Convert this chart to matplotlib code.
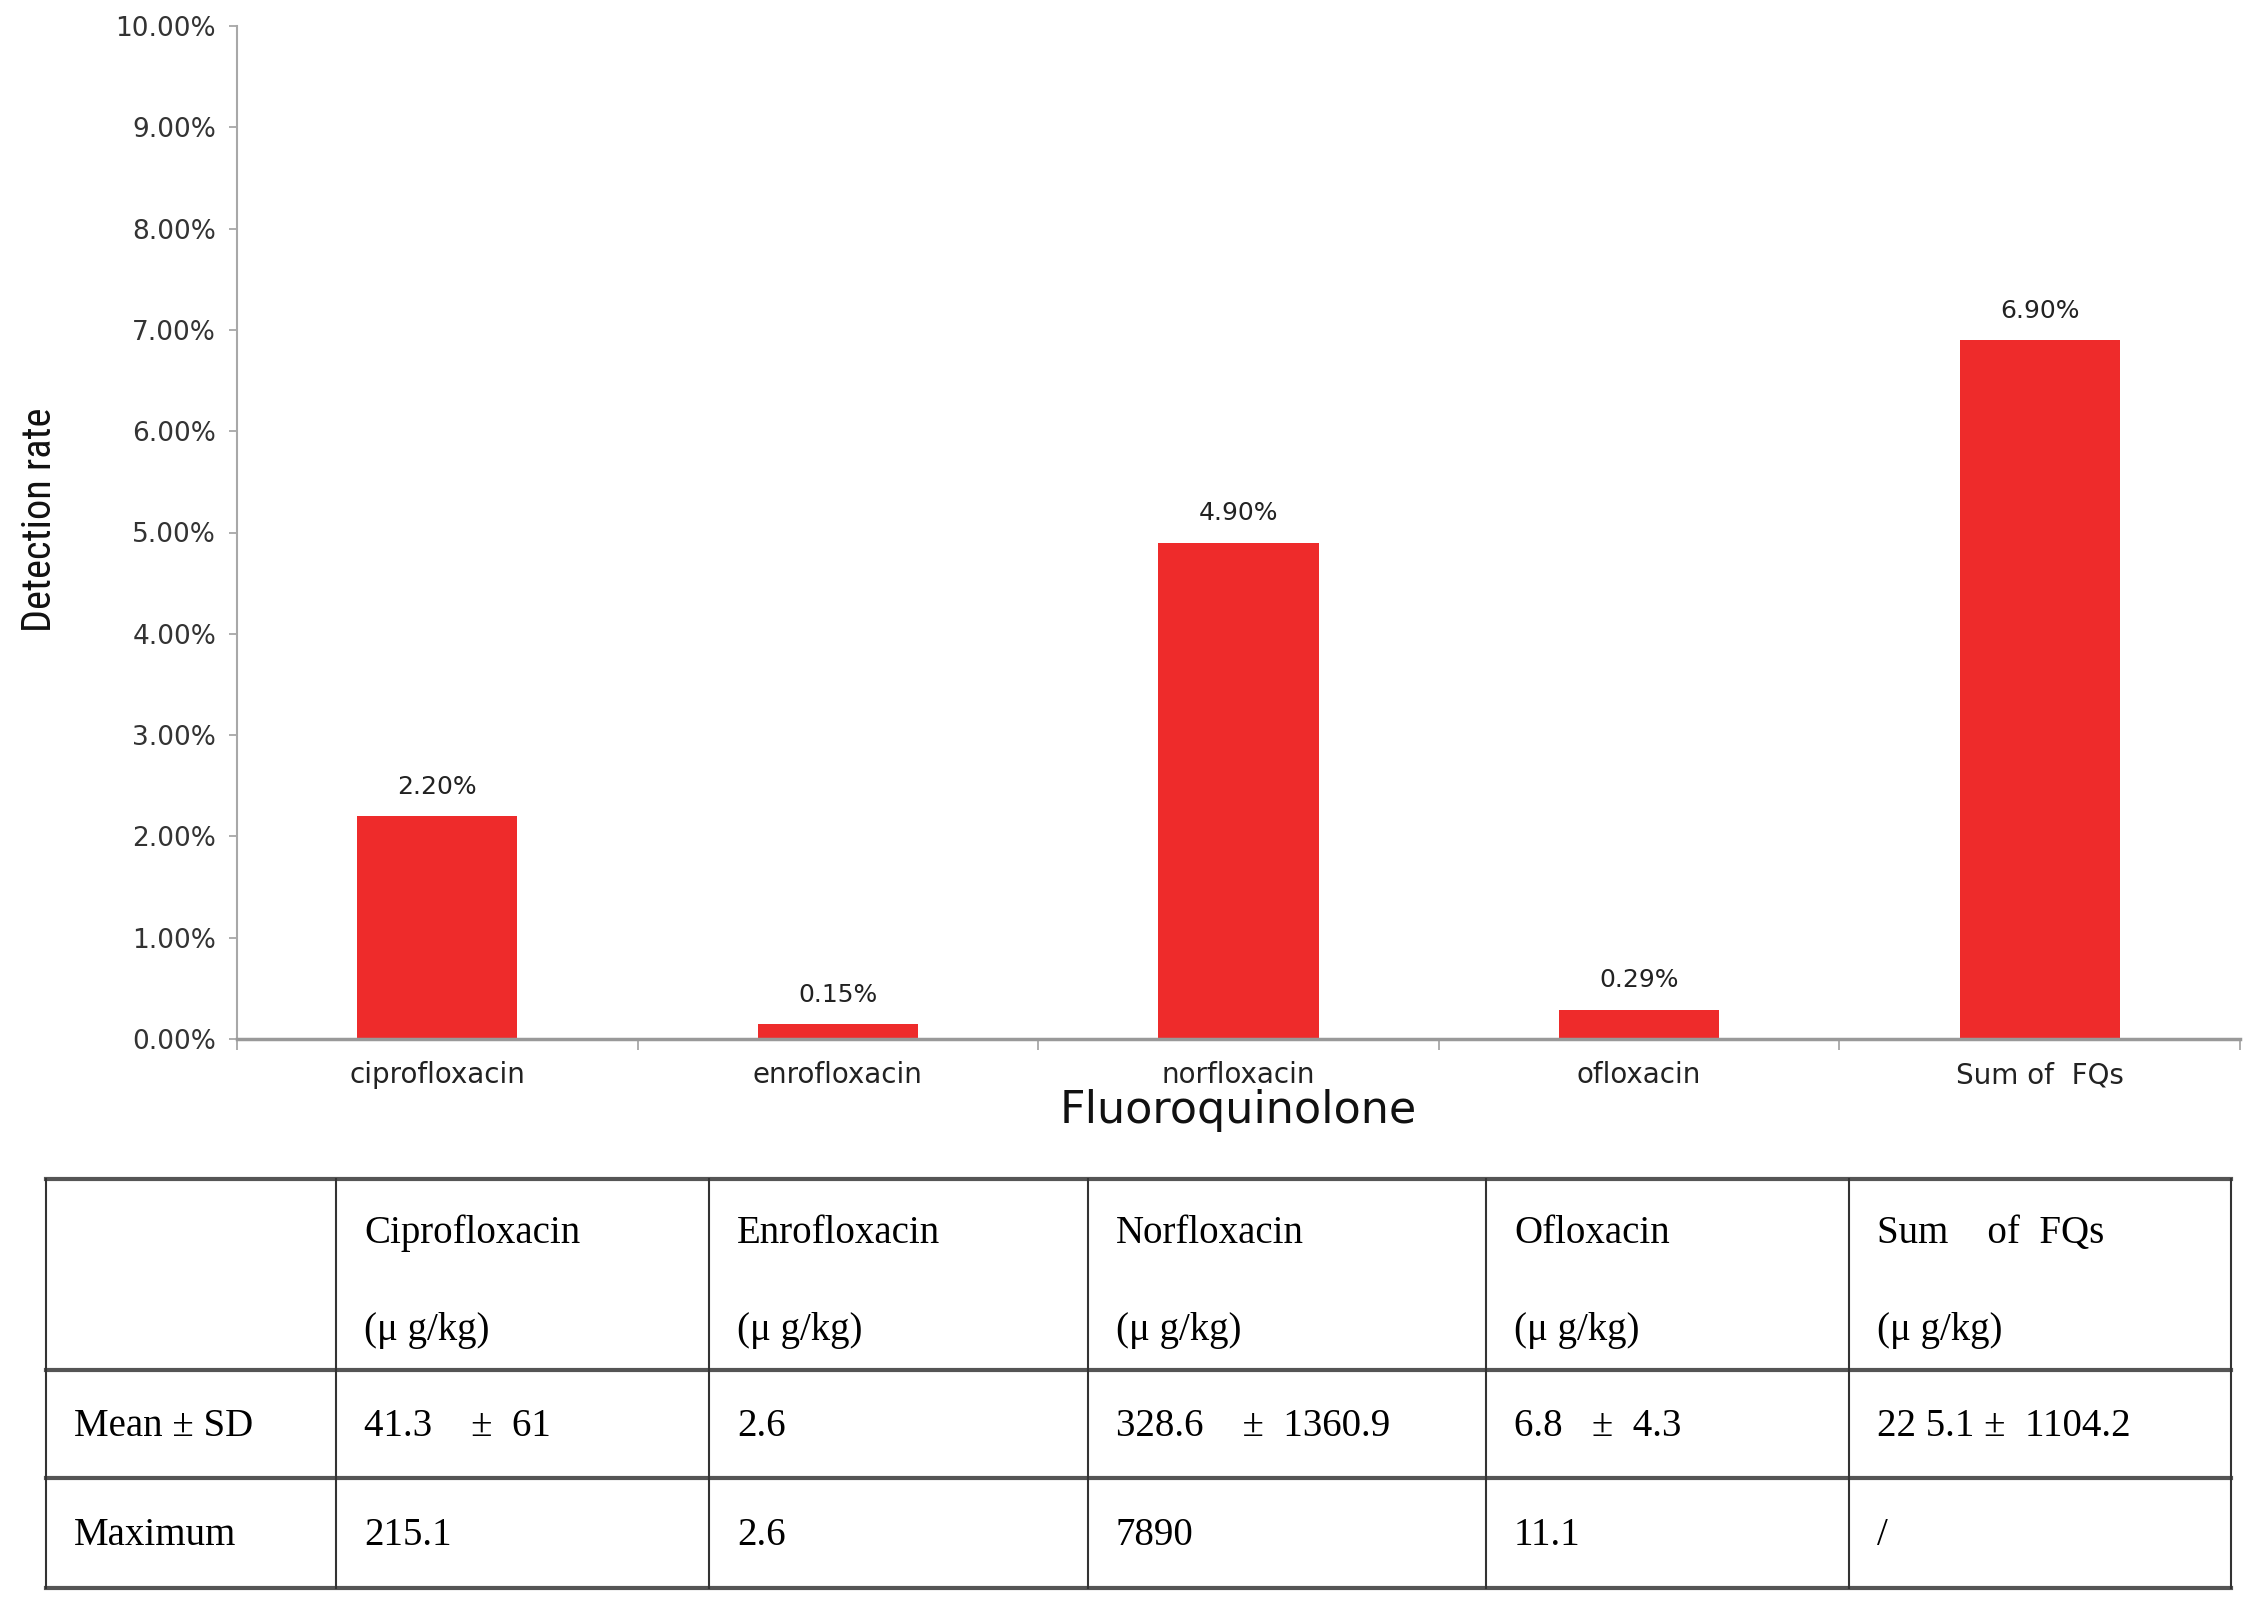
import matplotlib
matplotlib.use('Agg')
import matplotlib.pyplot as plt
from matplotlib import font_manager
from matplotlib.lines import Line2D

# chart data
drugs = ['ciprofloxacin', 'enrofloxacin', 'norfloxacin', 'ofloxacin', 'Sum of  FQs']
rates = [2.20, 0.15, 4.90, 0.29, 6.90]
yticks = [0, 1, 2, 3, 4, 5, 6, 7, 8, 9, 10]

# table data
tab_names = ['', 'Ciprofloxacin', 'Enrofloxacin', 'Norfloxacin', 'Ofloxacin', 'Sum    of  FQs']
tab_units = ['', '(μ g/kg)', '(μ g/kg)', '(μ g/kg)', '(μ g/kg)', '(μ g/kg)']
row_mean = ['Mean ± SD', '41.3    ±  61', '2.6', '328.6    ±  1360.9', '6.8   ±  4.3', '22 5.1 ±  1104.2']
row_max = ['Maximum', '215.1', '2.6', '7890', '11.1', '/']


def pick_font(names, default):
    have = {f.name for f in font_manager.fontManager.ttflist}
    for n in names:
        if n in have:
            return n
    return default


narrow = pick_font(['Liberation Sans Narrow', 'Roboto Condensed', 'DejaVu Sans Condensed'], 'Roboto')
serif = pick_font(['Liberation Serif', 'DejaVu Serif'], 'serif')

W, H = 2254, 1610
fig = plt.figure(figsize=(W / 100, H / 100), dpi=100)

# main bar chart
ax = fig.add_axes([237 / W, 1 - 1039 / H, (2240 - 237) / W, (1039 - 26) / H])
x = list(range(len(drugs)))
bars = ax.bar(x, rates, width=0.4, color='#ee2b2b', zorder=2)
for b, v in zip(bars, rates):
    ax.annotate(f'{v:.2f}%', (b.get_x() + b.get_width() / 2, v), xytext=(0, 21),
                textcoords='offset points', ha='center', va='center',
                fontsize=18, color='#222222', family='DejaVu Sans')

ax.set_xlim(-0.5, len(drugs) - 0.5)
ax.set_ylim(0, 10)
ax.set_yticks(yticks)
ax.set_yticklabels([f'{t:.2f}%' for t in yticks], fontsize=19, color='#333333', family='DejaVu Sans')
ax.set_xticks(x)
ax.set_xticklabels(drugs, fontsize=20, color='#222222', family='DejaVu Sans')
ax.set_xticks([i - 0.5 for i in range(len(drugs) + 1)], minor=True)
ax.tick_params(axis='x', which='major', length=0, pad=16)
ax.tick_params(axis='x', which='minor', length=8, width=1.2, color='#a0a0a0', direction='out')
ax.tick_params(axis='y', length=6, width=1.2, color='#a0a0a0', pad=9)

for s in ['top', 'right']:
    ax.spines[s].set_visible(False)
ax.spines['left'].set_color('#a8a8a8')
ax.spines['left'].set_linewidth(1.5)
ax.spines['bottom'].set_color('#999999')
ax.spines['bottom'].set_linewidth(2.5)

ax.set_xlabel('Fluoroquinolone', fontsize=32, family='DejaVu Sans', color='#111111')
ax.xaxis.set_label_coords(0.5, (1039 - 1110) / 1013)
ax.xaxis.label.set_va('center')
ax.set_ylabel('Detection rate', fontsize=29, family=narrow, color='#111111')
ax.yaxis.set_label_coords((40 - 237) / 2003, (1039 - 520) / 1013)
ax.yaxis.label.set_va('center')

# table drawn in pixel coordinates on an overlay axes
tx = fig.add_axes([0, 0, 1, 1])
tx.set_xlim(0, W)
tx.set_ylim(H, 0)
tx.axis('off')

col_edges = [46, 336, 709, 1088, 1486, 1849, 2231]
row_edges = [1179, 1370, 1478, 1588]
for yy in row_edges:
    tx.add_line(Line2D([col_edges[0], col_edges[-1]], [yy, yy], color='#555555', lw=3))
for xx in col_edges:
    tx.add_line(Line2D([xx, xx], [row_edges[0], row_edges[-1]], color='#333333', lw=1.5))

pad = 28
for i in range(len(tab_names)):
    left = col_edges[i] + pad
    tx.text(left, 1233, tab_names[i], fontsize=28, family=serif, va='center', ha='left')
    tx.text(left, 1330, tab_units[i], fontsize=28, family=serif, va='center', ha='left')
    tx.text(left, 1426, row_mean[i], fontsize=28, family=serif, va='center', ha='left')
    tx.text(left, 1535, row_max[i], fontsize=28, family=serif, va='center', ha='left')

fig.savefig('out.png', dpi=100)
